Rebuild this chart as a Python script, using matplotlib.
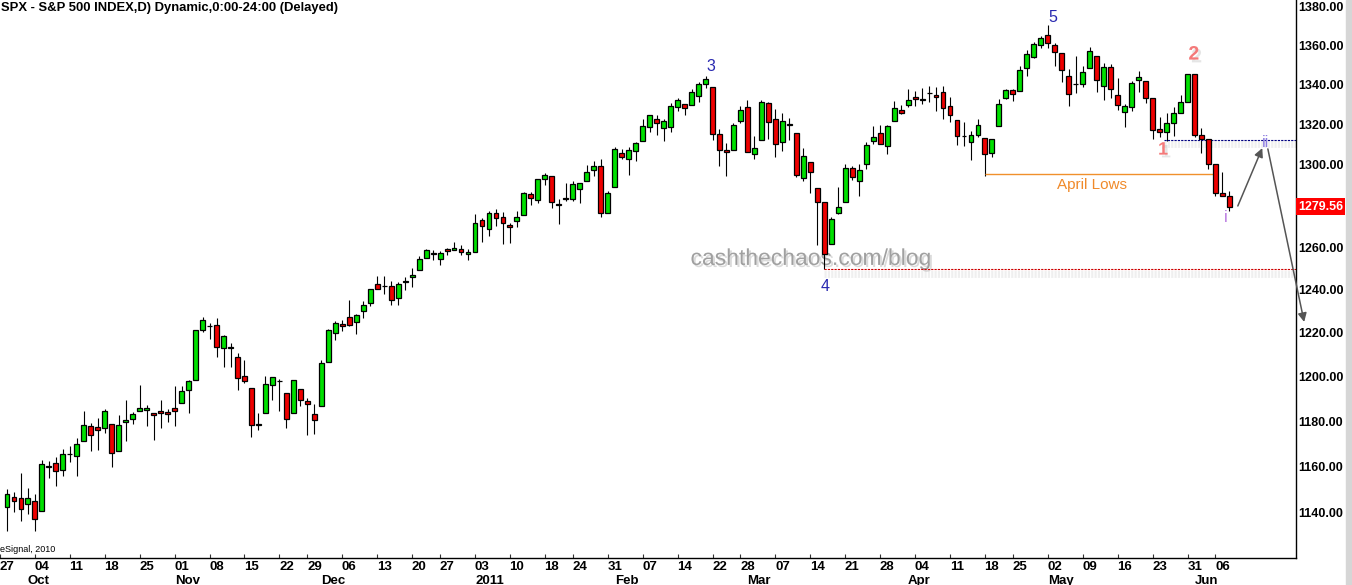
import numpy as np
import pandas as pd
import matplotlib
matplotlib.use('Agg')
import matplotlib.pyplot as plt
import matplotlib.transforms as mtransforms
import matplotlib.patheffects as pe
from matplotlib.patches import Rectangle
from matplotlib.ticker import NullLocator, NullFormatter

plt.rcParams['font.family'] = ['Liberation Sans', 'DejaVu Sans']

# trading days Sep 27 2010 - Jun 8 2011 (market holidays removed)
holidays = ['2010-11-25', '2010-12-24', '2011-01-17', '2011-02-21', '2011-04-22', '2011-05-30']
days = pd.bdate_range('2010-09-27', '2011-06-08')
days = days[~days.isin(pd.to_datetime(holidays))]

# daily OHLC, Sep 28 2010 .. Jun 8 2011
opens = [1142.3, 1146.5, 1146.0, 1143.5, 1144.9, 1140.7, 1159.8, 1161.6, 1158.4, 1165.3,
         1164.3, 1171.3, 1177.8, 1177.5, 1176.8, 1178.6, 1166.7, 1179.6, 1180.7, 1184.7,
         1184.9, 1183.8, 1184.5, 1183.9, 1185.7, 1187.9, 1193.8, 1198.3, 1221.2, 1223.2,
         1223.6, 1213.1, 1213.0, 1209.1, 1200.4, 1194.8, 1178.3, 1183.8, 1196.1, 1198.1,
         1192.5, 1183.7, 1194.2, 1189.1, 1183.0, 1186.6, 1206.8, 1219.9, 1223.9, 1227.3,
         1225.0, 1230.1, 1233.9, 1242.5, 1241.8, 1241.6, 1236.3, 1243.6, 1245.8, 1249.4,
         1254.9, 1257.5, 1254.7, 1259.1, 1258.8, 1259.4, 1256.8, 1257.6, 1273.0, 1268.8,
         1276.3, 1274.4, 1270.8, 1272.6, 1275.7, 1285.8, 1282.9, 1293.2, 1294.5, 1280.9,
         1283.6, 1283.3, 1288.2, 1292.0, 1297.5, 1299.6, 1276.5, 1289.1, 1305.9, 1302.8,
         1307.0, 1311.9, 1318.8, 1322.5, 1318.1, 1318.7, 1328.7, 1330.4, 1329.5, 1334.4,
         1340.4, 1338.9, 1315.4, 1307.1, 1307.3, 1321.6, 1328.6, 1305.5, 1312.4, 1330.7,
         1322.7, 1311.1, 1319.9, 1315.7, 1293.4, 1301.2, 1288.5, 1281.7, 1261.6, 1276.7,
         1281.7, 1298.3, 1292.2, 1300.6, 1311.8, 1315.5, 1309.4, 1321.9, 1327.4, 1329.5,
         1333.6, 1332.0, 1335.9, 1334.8, 1336.2, 1329.0, 1322.0, 1314.0, 1311.1, 1314.5,
         1313.4, 1306.0, 1319.1, 1333.2, 1337.1, 1336.8, 1348.4, 1353.9, 1360.1, 1365.2,
         1360.1, 1355.9, 1344.2, 1340.2, 1340.2, 1348.3, 1354.5, 1339.4, 1348.7, 1334.8,
         1326.1, 1328.5, 1342.4, 1342.0, 1333.1, 1317.7, 1316.4, 1320.6, 1325.7, 1331.1,
         1345.2, 1314.6, 1312.9, 1300.3, 1286.3, 1284.6]
highs = [1150.0, 1148.6, 1157.2, 1150.3, 1148.0, 1162.8, 1162.3, 1163.9, 1167.7, 1168.7,
         1172.6, 1184.4, 1178.9, 1181.2, 1185.5, 1178.6, 1182.9, 1189.4, 1183.9, 1196.1,
         1187.1, 1183.8, 1189.5, 1185.5, 1195.8, 1195.9, 1198.3, 1221.3, 1227.1, 1224.6,
         1226.8, 1218.8, 1215.5, 1210.5, 1207.4, 1194.8, 1183.6, 1200.3, 1200.0, 1198.9,
         1192.5, 1198.6, 1194.2, 1190.3, 1187.4, 1207.6, 1221.9, 1225.6, 1225.7, 1235.1,
         1228.9, 1234.7, 1240.4, 1246.7, 1246.6, 1244.3, 1243.8, 1245.8, 1250.2, 1255.8,
         1259.4, 1258.6, 1258.4, 1259.9, 1262.6, 1261.1, 1259.3, 1276.2, 1274.1, 1277.6,
         1278.2, 1276.8, 1271.5, 1277.3, 1286.9, 1286.7, 1293.2, 1296.1, 1294.6, 1283.4,
         1291.2, 1291.9, 1291.3, 1299.7, 1301.6, 1302.7, 1287.2, 1308.9, 1307.6, 1308.6,
         1311.0, 1322.9, 1324.9, 1324.5, 1322.8, 1330.8, 1333.0, 1330.4, 1337.6, 1341.5,
         1344.1, 1338.9, 1317.9, 1310.9, 1320.6, 1329.4, 1332.1, 1314.2, 1332.3, 1331.1,
         1327.7, 1325.7, 1323.2, 1315.7, 1308.4, 1301.2, 1288.5, 1281.7, 1274.8, 1288.9,
         1300.6, 1299.4, 1300.5, 1311.3, 1319.2, 1319.7, 1319.5, 1331.7, 1329.8, 1337.9,
         1336.7, 1338.2, 1339.4, 1338.8, 1339.5, 1333.8, 1322.0, 1321.4, 1316.8, 1322.9,
         1313.4, 1312.7, 1332.7, 1337.5, 1337.6, 1349.6, 1357.5, 1361.7, 1364.6, 1370.6,
         1361.2, 1355.9, 1348.0, 1354.4, 1349.4, 1359.4, 1354.5, 1351.1, 1350.5, 1343.3,
         1330.4, 1341.8, 1346.8, 1342.0, 1333.1, 1323.7, 1325.9, 1328.5, 1334.6, 1345.2,
         1345.2, 1318.0, 1312.9, 1300.3, 1296.2, 1287.0]
lows = [1132.1, 1140.3, 1136.1, 1139.4, 1131.9, 1140.7, 1154.9, 1151.4, 1155.6, 1162.0,
        1155.7, 1171.3, 1166.7, 1167.1, 1174.6, 1159.7, 1166.7, 1171.2, 1178.7, 1184.7,
        1177.7, 1171.7, 1177.1, 1179.7, 1177.7, 1187.9, 1183.6, 1198.3, 1220.3, 1217.2,
        1208.9, 1204.3, 1204.5, 1194.1, 1197.2, 1173.0, 1175.8, 1183.8, 1189.2, 1184.6,
        1176.9, 1183.7, 1186.9, 1173.6, 1174.1, 1186.6, 1206.8, 1216.8, 1220.7, 1223.3,
        1219.5, 1226.9, 1232.6, 1240.3, 1238.2, 1232.9, 1232.9, 1239.9, 1241.5, 1249.4,
        1254.9, 1254.1, 1251.5, 1256.2, 1258.8, 1256.3, 1254.2, 1257.6, 1262.7, 1265.4,
        1270.4, 1261.7, 1262.2, 1269.6, 1275.7, 1280.5, 1281.1, 1290.2, 1278.9, 1271.3,
        1282.1, 1282.5, 1281.1, 1292.0, 1294.4, 1274.6, 1276.5, 1289.1, 1302.6, 1294.8,
        1301.7, 1311.9, 1316.0, 1314.9, 1311.7, 1316.1, 1326.9, 1324.6, 1329.5, 1331.0,
        1338.1, 1312.3, 1299.6, 1294.3, 1307.3, 1320.6, 1306.1, 1302.6, 1312.4, 1312.6,
        1304.0, 1306.9, 1312.3, 1294.2, 1292.0, 1286.4, 1261.1, 1249.6, 1261.6, 1276.2,
        1281.7, 1292.7, 1284.7, 1297.7, 1310.2, 1310.2, 1305.3, 1321.9, 1325.0, 1328.9,
        1329.1, 1330.0, 1331.1, 1326.6, 1322.9, 1321.1, 1309.5, 1309.2, 1302.4, 1313.7,
        1294.7, 1304.0, 1319.1, 1332.8, 1331.5, 1336.8, 1344.3, 1353.6, 1358.7, 1358.6,
        1349.5, 1341.5, 1329.2, 1335.6, 1338.6, 1348.3, 1336.4, 1332.0, 1333.4, 1327.3,
        1318.5, 1326.6, 1336.4, 1330.7, 1312.9, 1313.9, 1311.8, 1314.4, 1325.7, 1331.1,
        1313.7, 1305.6, 1297.9, 1284.9, 1284.7, 1277.4]
closes = [1147.7, 1144.7, 1141.2, 1146.2, 1137.0, 1160.8, 1160.0, 1158.1, 1165.2, 1165.3,
          1169.8, 1178.1, 1173.8, 1176.2, 1184.7, 1165.9, 1178.2, 1180.3, 1183.1, 1185.6,
          1185.6, 1182.5, 1183.8, 1183.3, 1184.4, 1193.6, 1198.0, 1221.1, 1225.9, 1223.3,
          1213.4, 1218.7, 1213.5, 1199.2, 1197.8, 1178.3, 1178.6, 1196.7, 1199.7, 1197.8,
          1180.7, 1198.4, 1189.4, 1187.8, 1180.6, 1206.1, 1221.5, 1224.7, 1223.1, 1223.8,
          1228.3, 1233.0, 1240.4, 1240.5, 1241.6, 1235.2, 1242.9, 1243.9, 1247.1, 1254.6,
          1258.8, 1256.8, 1257.5, 1258.5, 1259.8, 1257.9, 1257.6, 1271.9, 1270.2, 1276.6,
          1273.9, 1271.5, 1269.8, 1274.5, 1286.0, 1283.8, 1293.2, 1295.0, 1281.9, 1280.3,
          1283.4, 1290.8, 1291.2, 1296.6, 1299.5, 1276.3, 1286.1, 1307.6, 1304.0, 1307.1,
          1310.9, 1319.1, 1324.6, 1320.9, 1321.9, 1329.2, 1332.3, 1328.0, 1336.3, 1340.4,
          1343.0, 1315.4, 1307.4, 1306.1, 1319.9, 1327.2, 1306.3, 1308.4, 1331.0, 1321.2,
          1310.1, 1321.8, 1320.0, 1295.1, 1304.3, 1296.4, 1281.9, 1256.9, 1273.7, 1279.2,
          1298.4, 1293.8, 1297.5, 1309.7, 1313.8, 1310.2, 1319.4, 1328.3, 1325.8, 1332.4,
          1332.9, 1332.6, 1335.5, 1333.5, 1328.2, 1324.5, 1314.2, 1314.4, 1314.5, 1319.7,
          1305.1, 1312.6, 1330.4, 1337.4, 1335.3, 1347.2, 1355.7, 1360.5, 1363.6, 1361.2,
          1356.6, 1347.3, 1335.1, 1340.2, 1346.3, 1357.2, 1342.1, 1348.7, 1337.8, 1329.5,
          1329.0, 1340.7, 1343.6, 1333.3, 1317.4, 1316.3, 1320.5, 1325.7, 1331.1, 1345.2,
          1314.6, 1312.9, 1300.2, 1286.2, 1284.9, 1279.56]

last_price = 1279.56
march_low = 1249.6
april_low = 1295.5
wave1_level = 1312.2

y_ticks = [1140, 1160, 1180, 1200, 1220, 1240, 1260, 1300, 1320, 1340, 1360, 1380]
month_labels = ['Oct', 'Nov', 'Dec', '2011', 'Feb', 'Mar', 'Apr', 'May', 'Jun']

green = '#00e000'
red = '#ee0000'

fig = plt.figure(figsize=(13.52, 5.85), dpi=100)
ax = fig.add_axes([0, 27.3 / 585, 1296 / 1352, 557.7 / 585])

# candles
x = np.arange(1, len(closes) + 1)
o = np.array(opens)
c = np.array(closes)
up = c >= o
ax.vlines(x, lows, highs, color='black', lw=0.8, zorder=2)
ax.bar(x, np.abs(c - o), bottom=np.minimum(o, c), width=0.7,
       color=np.where(up, green, red), edgecolor='black', linewidth=0.9, zorder=3)

ax.set_yscale('log')
ax.set_ylim(1120.6, 1383.5)
ax.set_xlim(0.386, 185.53)

ax.set_yticks(y_ticks, [f'{v:.2f}' for v in y_ticks])
ax.yaxis.set_minor_locator(NullLocator())
ax.yaxis.set_minor_formatter(NullFormatter())
ax.yaxis.tick_right()
ax.tick_params(axis='y', length=0, pad=1.5, labelsize=9)
for lab in ax.get_yticklabels():
    lab.set_fontweight('bold')

# weekly / monthly date labels
wk = days.isocalendar().week.values
week_pos = [0] + [i for i in range(1, len(days)) if wk[i] != wk[i - 1]]
month_pos = [i for i in range(1, len(days)) if days[i].month != days[i - 1].month]
ax.set_xticks(week_pos, [''] * len(week_pos))
ax.tick_params(axis='x', direction='in', length=3, color='#333333')
tr = mtransforms.blended_transform_factory(ax.transData, ax.transAxes)
for p in week_pos:
    ax.text(p - 0.05, -0.0165, days[p].strftime('%d'), transform=tr, ha='left', va='center',
            fontsize=9.5, fontweight='bold', clip_on=False)
for p, m in zip(month_pos, month_labels):
    ax.text(p, -0.042, m, transform=tr, ha='left', va='center',
            fontsize=9.5, fontweight='bold', clip_on=False)

for s in ['left', 'top']:
    ax.spines[s].set_visible(False)
ax.spines['right'].set_linewidth(1.0)
ax.spines['bottom'].set_linewidth(1.0)

# level lines
shadow = [pe.SimpleLineShadow(offset=(0, -3), shadow_color='gray', alpha=0.12, linewidth=5), pe.Normal()]
ax.hlines(march_low, 118, 185.53, color='#cc0000', lw=0.8, linestyles=(0, (2, 1)), path_effects=shadow)
ax.hlines(wave1_level, 166.6, 185.53, color='#000080', lw=0.8, linestyles=(0, (2, 1)), path_effects=shadow)
ax.hlines(april_low, 141, 174.2, color='#f0902c', lw=1.0)

# watermark
ax.text(116.1, 1251.7, 'cashthechaos.com/blog', ha='center', va='baseline', fontsize=16.5,
        color='#a0a0a0', zorder=1,
        path_effects=[pe.withSimplePatchShadow(offset=(1.5, -1.5), shadow_rgbFace='#888888', alpha=0.3)])

# wave labels
wave_blue = '#2828b0'
ax.text(101.8, 1349.4, '3', color=wave_blue, fontsize=11.5, ha='center', va='center')
ax.text(118.1, 1241.6, '4', color=wave_blue, fontsize=11.5, ha='center', va='center')
ax.text(150.7, 1374.2, '5', color=wave_blue, fontsize=11.5, ha='center', va='center')
sh = [pe.withSimplePatchShadow(offset=(2, -2), shadow_rgbFace='#aaaaaa', alpha=0.3)]
ax.text(166.5, 1307.2, '1', color='#f47a7a', fontsize=13, fontweight='bold', ha='center', va='center', path_effects=sh)
ax.text(170.9, 1355.0, '2', color='#f47a7a', fontsize=14, fontweight='bold', ha='center', va='center', path_effects=sh)
ax.text(175.4, 1274.1, 'i', color='#b878e0', fontsize=11.5, ha='center', va='center')
ax.text(181.2, 1311.2, 'ii', color='#8c7ce0', fontsize=11.5, ha='center', va='center')
ax.text(156.3, 1290.1, 'April Lows', color='#f08a2a', fontsize=11, ha='center', va='center')

# projected path
arrow = dict(arrowstyle='-|>', color='#555555', lw=1.1, mutation_scale=13, shrinkA=0, shrinkB=0)
ax.annotate('', xy=(180.7, 1308.2), xytext=(177.2, 1279.9), arrowprops=arrow, annotation_clip=False)
ax.annotate('', xy=(186.7, 1225.0), xytext=(181.5, 1307.8), arrowprops=arrow, annotation_clip=False)

# last price tag
tr_y = mtransforms.blended_transform_factory(ax.transAxes, ax.transData)
ax.text(1.0015, last_price, f'{last_price:.2f}', transform=tr_y, ha='left', va='center',
        color='white', fontsize=9, fontweight='bold', clip_on=False, zorder=6,
        bbox=dict(boxstyle='square,pad=0.18', fc='#ff0000', ec='none'))

fig.text(1 / 1352, 1 - 7.5 / 585, 'SPX - S&P 500 INDEX,D) Dynamic,0:00-24:00 (Delayed)',
         ha='left', va='center', fontsize=9.4, fontweight='bold')
fig.text(0.5 / 1352, 1 - 550 / 585, 'eSignal, 2010', ha='left', va='center', fontsize=6.5)
fig.add_artist(Rectangle((1346 / 1352, 0), 6 / 1352, 1, transform=fig.transFigure,
                         color='#d6d6d6', zorder=0))

fig.savefig('out.png', dpi=100)
